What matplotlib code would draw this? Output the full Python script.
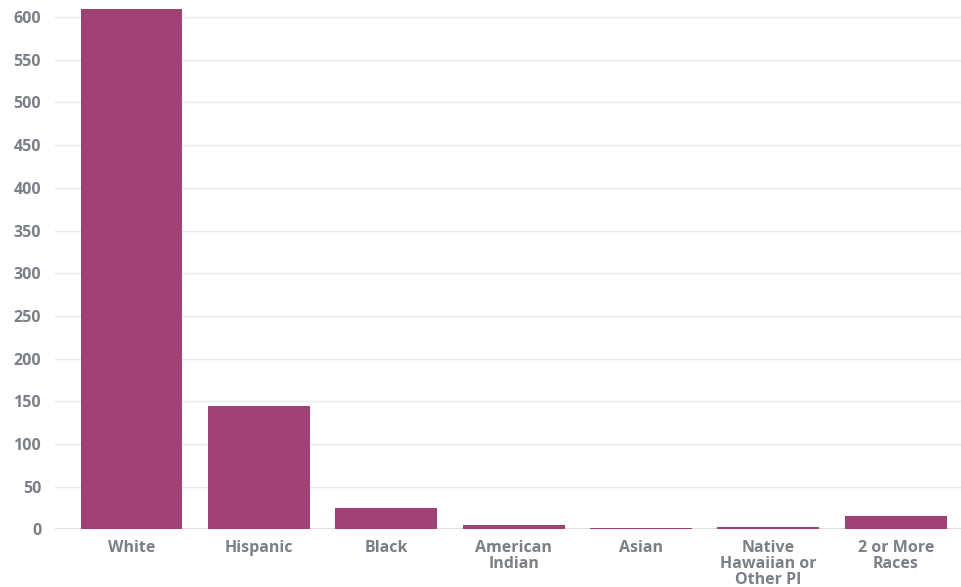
import matplotlib
matplotlib.use('Agg')
import matplotlib.pyplot as plt

# Values
categories = ['White', 'Hispanic', 'Black', 'American\nIndian', 'Asian',
              'Native\nHawaiian or\nOther PI', '2 or More\nRaces']
counts = [609, 144, 25, 5, 2, 3, 16]
yticks = list(range(0, 601, 50))

plt.rcParams['font.family'] = ['Open Sans', 'DejaVu Sans']

fig = plt.figure(figsize=(9.62, 5.87), dpi=100)
ax = fig.add_axes([0.0572, 0.0983, 0.9428, 0.9017])

x = range(len(categories))
ax.bar(x, counts, width=0.8, color='#a04276', linewidth=0, zorder=3)

ax.set_xlim(-0.6, 6.52)
ax.set_ylim(0, 620)
ax.set_yticks(yticks)
ax.set_xticks(list(x))
ax.set_xticklabels(categories, linespacing=1.0)

ax.grid(axis='y', color='#e4e9f0', linewidth=1, zorder=0)
ax.axhline(0, color='#d3dae3', linewidth=1.2, zorder=2)

for s in ax.spines.values():
    s.set_visible(False)

ax.tick_params(axis='both', length=0, labelsize=11.5, labelcolor='#7b7f87')
ax.tick_params(axis='y', pad=10)
ax.tick_params(axis='x', pad=8)
for lbl in ax.get_xticklabels() + ax.get_yticklabels():
    lbl.set_fontweight('bold')

plt.savefig('out.png', dpi=100)
